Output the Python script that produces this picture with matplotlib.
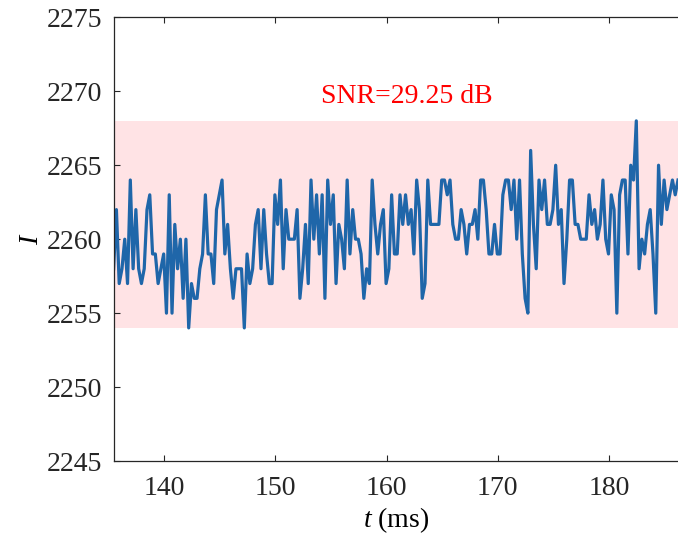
import numpy as np
import matplotlib
matplotlib.use("Agg")
import matplotlib.pyplot as plt

# sampled intensity, 0.25 ms steps
t_start = 135.45
dt = 0.25
intensity = [
    2258, 2262, 2257, 2258, 2260, 2257, 2264, 2258, 2262, 2258,
    2257, 2258, 2262, 2263, 2259, 2259, 2257, 2258, 2259, 2255,
    2263, 2255, 2261, 2258, 2260, 2256, 2260, 2254, 2257, 2256,
    2256, 2258, 2259, 2263, 2259, 2259, 2257, 2262, 2263, 2264,
    2259, 2261, 2258, 2256, 2258, 2258, 2258, 2254, 2259,
    2257, 2258, 2261, 2262, 2258, 2262, 2259, 2257, 2257, 2263,
    2261, 2264, 2258, 2262, 2260, 2260, 2260, 2262, 2256, 2258,
    2261, 2257, 2264, 2260, 2263, 2259, 2263, 2256, 2264, 2261,
    2263, 2257, 2261, 2260, 2258, 2264, 2259, 2262, 2260, 2260,
    2259, 2256, 2258, 2257, 2264, 2261, 2259, 2261, 2262, 2257,
    2258,
    2263, 2259, 2259, 2263, 2261, 2263, 2261, 2262, 2259, 2264,
    2262, 2256, 2257, 2264, 2261, 2261, 2261, 2261, 2264, 2264,
    2263, 2264, 2261, 2260, 2260, 2262, 2261, 2259, 2261, 2261,
    2262, 2260, 2264, 2264, 2262, 2259, 2259, 2261, 2259, 2259,
    2263, 2264, 2264, 2262, 2264, 2260, 2264, 2259, 2256, 2255,
    2266, 2261, 2258, 2264, 2262, 2264, 2261, 2261, 2262, 2265,
    2261, 2262, 2257, 2260, 2264, 2264, 2261, 2261, 2260, 2260,
    2260, 2263, 2261, 2262, 2260, 2261, 2264, 2260, 2259, 2263,
    2262, 2255, 2263, 2264, 2264, 2259, 2265, 2264, 2268, 2258,
    2260, 2259, 2261, 2262, 2259, 2255, 2265, 2261, 2264, 2262,
    2263, 2264, 2263, 2264,
]
t = t_start + dt * np.arange(len(intensity))

band_low, band_high = 2254, 2268
snr_text = "SNR=29.25 dB"

plt.rcParams["font.family"] = ["Liberation Serif", "DejaVu Serif"]
plt.rcParams["mathtext.fontset"] = "custom"
plt.rcParams["mathtext.rm"] = "Liberation Serif"
plt.rcParams["mathtext.it"] = "Liberation Serif:italic"
plt.rcParams["font.size"] = 20

fig = plt.figure(figsize=(6.78, 5.42), dpi=100)
ax = fig.add_axes([0.1676, 0.1494, 0.8324, 0.8186])

ax.axhspan(band_low, band_high, color="#ffe3e5", lw=0, zorder=0)
ax.plot(t, intensity, color="#1f66a9", lw=2.3, zorder=2)
ax.text(161.85, 2269.2, snr_text, color="red", ha="center", va="baseline", fontsize=20)

ax.set_xlim(t[0], t[-1])
ax.set_ylim(2245, 2275)
ax.set_xticks([140, 150, 160, 170, 180])
ax.set_yticks(np.arange(2245, 2276, 5))
ax.set_xlabel(r"$t$ (ms)", labelpad=3)
ax.set_ylabel(r"$I$", labelpad=2)

ax.tick_params(direction="in", length=4.5, width=0.8, colors="#262626",
               top=True, right=False)
ax.tick_params(axis="x", pad=11)
ax.tick_params(axis="y", pad=8)
for s in ["left", "bottom", "top"]:
    ax.spines[s].set_color("#262626")
    ax.spines[s].set_linewidth(0.9)
ax.spines["right"].set_visible(False)

fig.savefig("out.png", dpi=100)
